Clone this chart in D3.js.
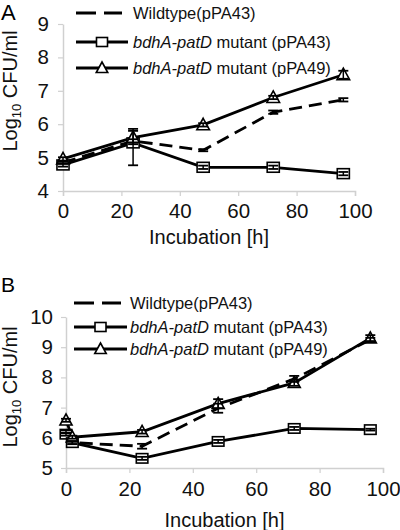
<!DOCTYPE html>
<html>
<head>
<meta charset="utf-8">
<script src="https://cdn.jsdelivr.net/npm/d3@7"></script>
<style>
  html, body { margin: 0; padding: 0; background: #fff; }
  svg { display: block; font-family: "Liberation Sans", Arial, sans-serif; }
</style>
</head>
<body>
<svg id="chart" width="400" height="530"></svg>
<script>
// ---------- DATA ----------
const panelLabels = ["A", "B"];
const legendLabels = ["Wildtype(pPA43)", "bdhA-patD mutant (pPA43)", "bdhA-patD mutant (pPA49)"];
const xTicks = [0, 20, 40, 60, 80, 100];
const yTicksA = [4, 5, 6, 7, 8, 9];
const yTicksB = [5, 6, 7, 8, 9, 10];

// Panel A
const hoursA = [0, 24, 48, 72, 96];
const wildtypeA = [4.85, 5.5, 5.22, 6.36, 6.73];
const wildtypeAErr = [0.03, 0.05, 0.03, 0.05, 0.05];
const mutant43A = [4.78, 5.44, 4.71, 4.71, 4.52];
const mutant43AErr = [0.05, 0.42, 0.05, 0.05, 0.05];      // upper
const mutant43AErrLow = [0.05, 0.67, 0.05, 0.05, 0.05];   // lower
const mutant49A = [4.96, 5.6, 5.98, 6.8, 7.48];
const mutant49AErr = [0.05, 0.2, 0.05, 0.05, 0.12];

// Panel B
const hoursB = [0, 2, 24, 48, 72, 96];
const wildtypeB = [6.2, 5.84, 5.72, 6.98, 7.95, 9.25];
const wildtypeBErr = [0.05, 0.05, 0.08, 0.15, 0.1, 0.06];
const mutant43B = [6.12, 5.84, 5.32, 5.88, 6.31, 6.27];
const mutant43BErr = [0.05, 0.05, 0.05, 0.05, 0.05, 0.03];
const mutant49B = [6.58, 6.02, 6.2, 7.13, 7.82, 9.3];
const mutant49BErr = [0.05, 0.05, 0.06, 0.15, 0.1, 0.1];

// ---------- DRAW ----------
const svg = d3.select("#chart");
const axisColor = "#d0d0d0";

function drawPanel(cfg) {
  const g = svg.append("g");
  const x = d3.scaleLinear().domain([0, 100]).range([cfg.x0, cfg.x1]);
  const y = d3.scaleLinear().domain(cfg.yDomain).range([cfg.yBottom, cfg.yTop]);

  // panel letter
  g.append("text").attr("x", 1).attr("y", cfg.letterY)
    .attr("font-size", cfg.letterSize).attr("fill", "#000").text(cfg.letter);

  // x axis
  const xAxis = g.append("g").attr("transform", `translate(0,${cfg.yBottom})`)
    .call(d3.axisBottom(x).tickValues(xTicks).tickFormat(d3.format("d")).tickSize(5).tickPadding(cfg.xPad));
  xAxis.select(".domain").attr("stroke", axisColor).attr("stroke-width", 1.5);
  xAxis.selectAll(".tick line").attr("stroke", axisColor).attr("stroke-width", 1.2);
  xAxis.selectAll(".tick text").attr("font-size", 20.5).attr("fill", "#111")
    .attr("font-family", "Liberation Sans, Arial, sans-serif");

  // y axis
  const yAxis = g.append("g").attr("transform", `translate(${cfg.x0},0)`)
    .call(d3.axisLeft(y).tickValues(cfg.yTicks).tickFormat(d3.format("d")).tickSize(5).tickPadding(cfg.yPad).tickSizeOuter(0));
  yAxis.select(".domain").attr("stroke", axisColor).attr("stroke-width", 1.5);
  yAxis.selectAll(".tick line").attr("stroke", axisColor).attr("stroke-width", 1.2);
  yAxis.selectAll(".tick text").attr("font-size", 20.5).attr("fill", "#111")
    .attr("font-family", "Liberation Sans, Arial, sans-serif");

  // x axis title
  g.append("text").attr("x", (cfg.x0 + cfg.x1) / 2).attr("y", cfg.xTitleY)
    .attr("text-anchor", "middle").attr("font-size", 20).attr("fill", "#111")
    .text("Incubation [h]");

  // y axis title
  const yt = g.append("text")
    .attr("transform", `translate(17,${cfg.yTitleCenter}) rotate(-90)`)
    .attr("text-anchor", "middle").attr("font-size", 20).attr("fill", "#111");
  yt.append("tspan").text("Log");
  yt.append("tspan").attr("font-size", 13).attr("dy", 4).text("10");
  yt.append("tspan").attr("dy", -4).text(" CFU/ml");

  const line = d3.line().x(d => x(d[0])).y(d => y(d[1]));

  const series = cfg.series;
  // lines
  series.forEach(s => {
    const pts = s.hours.map((h, i) => [h, s.values[i]]);
    g.append("path").datum(pts).attr("d", line)
      .attr("fill", "none").attr("stroke", "#000").attr("stroke-width", 2.8)
      .attr("stroke-dasharray", s.dashed ? "13,7" : null);
  });
  // markers
  series.forEach(s => {
    s.hours.forEach((h, i) => {
      drawMarker(g, s.marker, x(h), y(s.values[i]), cfg.mk);
    });
  });
  // error bars
  series.forEach(s => {
    s.hours.forEach((h, i) => {
      const cx = x(h), v = s.values[i], e = s.err[i];
      const eLow = s.errLow ? s.errLow[i] : e;
      const yt1 = y(v + e), yb1 = y(v - eLow);
      g.append("line").attr("x1", cx).attr("x2", cx).attr("y1", yt1).attr("y2", yb1)
        .attr("stroke", "#000").attr("stroke-width", 1.5);
      [yt1, yb1].forEach(yy => g.append("line").attr("x1", cx - 5).attr("x2", cx + 5)
        .attr("y1", yy).attr("y2", yy).attr("stroke", "#000").attr("stroke-width", 1.8));
    });
  });

  // legend
  cfg.legendYs.forEach((ly, i) => {
    const s = series[i];
    if (s.dashed) {
      g.append("line").attr("x1", cfg.legX0).attr("x2", cfg.legX1 - 6).attr("y1", ly).attr("y2", ly)
        .attr("stroke", "#000").attr("stroke-width", 2.8).attr("stroke-dasharray", "20,8");
    } else {
      g.append("line").attr("x1", cfg.legX0).attr("x2", cfg.legX1).attr("y1", ly).attr("y2", ly)
        .attr("stroke", "#000").attr("stroke-width", 2.8);
      drawMarker(g, s.marker, (cfg.legX0 + cfg.legX1) / 2, ly, cfg.legMk);
    }
    const t = g.append("text").attr("x", cfg.legTextX).attr("y", ly + 6)
      .attr("font-size", 16.5).attr("fill", "#111");
    const lab = legendLabels[i];
    if (lab.startsWith("bdhA-patD")) {
      t.append("tspan").attr("font-style", "italic").text("bdhA-patD");
      t.append("tspan").text(lab.slice("bdhA-patD".length));
    } else {
      t.text(lab);
    }
  });
}

function drawMarker(g, type, cx, cy, size) {
  if (type === "square") {
    g.append("rect").attr("x", cx - size * 0.55).attr("y", cy - size * 0.45)
      .attr("width", size * 1.1).attr("height", size * 0.9)
      .attr("fill", "#fff").attr("stroke", "#000").attr("stroke-width", 1.6);
  } else if (type === "triangle") {
    const w = size * 1.15, h = size;
    g.append("path")
      .attr("d", `M${cx},${cy - h * 0.6}L${cx + w / 2},${cy + h * 0.45}L${cx - w / 2},${cy + h * 0.45}Z`)
      .attr("fill", "#fff").attr("stroke", "#000").attr("stroke-width", 1.6);
  }
}

drawPanel({
  letter: panelLabels[0], letterY: 20, letterSize: 22,
  x0: 63, x1: 355, yTop: 24, yBottom: 191, yDomain: [4, 9], yTicks: yTicksA,
  xPad: 7, yPad: 9, xTitleY: 244, yTitleCenter: 91, mk: 11,
  legendYs: [13, 42, 68], legX0: 76, legX1: 128, legTextX: 133, legMk: 10,
  series: [
    { hours: hoursA, values: wildtypeA, err: wildtypeAErr, dashed: true, marker: "none" },
    { hours: hoursA, values: mutant43A, err: mutant43AErr, errLow: mutant43AErrLow, dashed: false, marker: "square" },
    { hours: hoursA, values: mutant49A, err: mutant49AErr, dashed: false, marker: "triangle" }
  ]
});

drawPanel({
  letter: panelLabels[1], letterY: 292, letterSize: 21,
  x0: 66, x1: 383, yTop: 317, yBottom: 468, yDomain: [5, 10], yTicks: yTicksB,
  xPad: 8, yPad: 8, xTitleY: 527, yTitleCenter: 387, mk: 10.5,
  legendYs: [303, 327, 349], legX0: 74, legX1: 127, legTextX: 130, legMk: 10,
  series: [
    { hours: hoursB, values: wildtypeB, err: wildtypeBErr, dashed: true, marker: "none" },
    { hours: hoursB, values: mutant43B, err: mutant43BErr, dashed: false, marker: "square" },
    { hours: hoursB, values: mutant49B, err: mutant49BErr, dashed: false, marker: "triangle" }
  ]
});
</script>
</body>
</html>
